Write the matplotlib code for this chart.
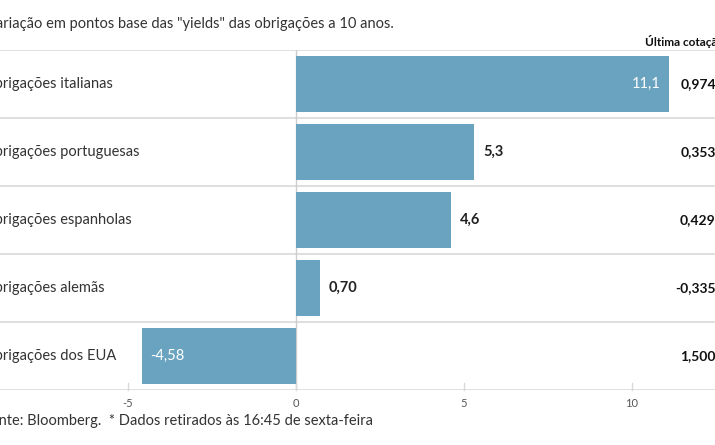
import matplotlib.pyplot as plt

categories = ["Obrigações italianas", "Obrigações portuguesas", "Obrigações espanholas",
              "Obrigações alemãs", "Obrigações dos EUA"]
variation = [11.1, 5.3, 4.6, 0.70, -4.58]
value_labels = ["11,1", "5,3", "4,6", "0,70", "-4,58"]
last_quote = ["0,9740", "0,3530", "0,4290", "-0,3350", "1,5004"]
xticks = [-5, 0, 5, 10]

W, H = 715, 445
PX = 33.6          # pixels per unit
X0 = 296           # pixel of zero
def xd(px):
    return (px - X0) / PX

fig = plt.figure(figsize=(W / 100, H / 100), dpi=100)
top, bottom = 50, 390
ax = fig.add_axes([0, 1 - bottom / H, 1, (bottom - top) / H])
n = len(categories)
ax.set_xlim(xd(0), xd(W))
ax.set_ylim(n, 0)
for s in ax.spines.values():
    s.set_visible(False)
ax.set_yticks([])
ax.set_xticks([])

font = "Lato"
bar_c = "#6aa3bf"
for i in range(n + 1):
    ax.axhline(i, color="#d9d9d9", lw=1.2, zorder=1)
ax.axvline(0, color="#cccccc", lw=1, zorder=1)

ys = [i + 0.5 for i in range(n)]
ax.barh(ys, variation, height=0.83, color=bar_c, zorder=2)

for y, cat, v, lab, q in zip(ys, categories, variation, value_labels, last_quote):
    ax.text(xd(-17), y, cat, ha="left", va="center", fontsize=10.5, family=font, color="#333333")
    if v > 10:
        ax.text(v - xd(X0 + 8), y, lab, ha="right", va="center", fontsize=10.5, family=font, color="white")
    elif v < 0:
        ax.text(v + xd(X0 + 8), y, lab, ha="left", va="center", fontsize=10.5, family=font, color="white")
    else:
        ax.text(v + xd(X0 + 9), y, lab, ha="left", va="center", fontsize=10.5, family=font,
                color="#222222", fontweight="bold")
    ax.text(xd(724), y, q, ha="right", va="center", fontsize=10, family=font,
            color="#111111", fontweight="bold")

for t in xticks:
    ax.plot([t, t], [n, n - 0.1], color="#d9d9d9", lw=1, zorder=1, clip_on=False)
    ax.text(t, n + 0.2, str(t), ha="center", va="center", fontsize=8, family=font, color="#555555")

fig.text(-14 / W, 1 - 24 / H, 'Variação em pontos base das "yields" das obrigações a 10 anos.',
         ha="left", va="center", fontsize=10.5, family=font, color="#333333")
fig.text(645 / W, 1 - 41 / H, "Última cotação*", ha="left", va="center", fontsize=8.5,
         family=font, fontweight="bold", color="#111111")
fig.text(-18 / W, 1 - 421 / H, "Fonte: Bloomberg.  * Dados retirados às 16:45 de sexta-feira",
         ha="left", va="center", fontsize=10.5, family=font, color="#333333")

fig.savefig("out.png", dpi=100)
